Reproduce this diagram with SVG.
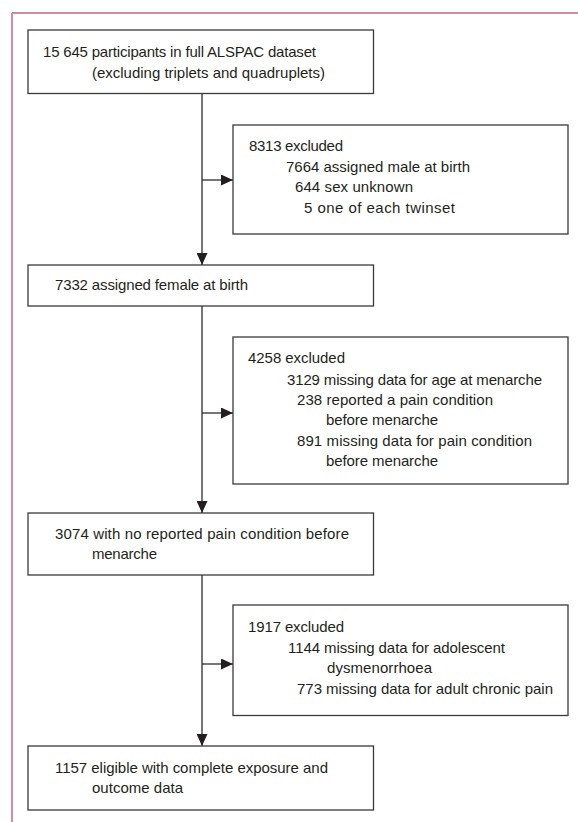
<svg xmlns="http://www.w3.org/2000/svg" width="578" height="822" viewBox="0 0 578 822">
<style>
.box{fill:#fff;stroke:#3a3a3a;stroke-width:1.3}
.t{font-family:"Liberation Sans",Arial,sans-serif;font-size:15px;fill:#231f20}
.c{stroke:#2b2b2b;stroke-width:1.3;fill:none}
</style>
<defs>
<marker id="ah" markerUnits="userSpaceOnUse" markerWidth="12" markerHeight="11" refX="12" refY="5.5" orient="auto">
<path d="M0,0 L12,5.5 L0,11 z" fill="#231f20"/>
</marker>
</defs>
<rect width="578" height="822" fill="#fff"/>
<g id="frame">
<line x1="12" y1="13" x2="578" y2="13" stroke="#a0183c" stroke-width="1.2"/>
<line x1="12" y1="13" x2="12" y2="822" stroke="#d98aa1" stroke-width="2"/>
</g>
<g id="connectors">
<line class="c" x1="202" y1="93.5" x2="202" y2="265" marker-end="url(#ah)"/>
<line class="c" x1="202" y1="180" x2="233" y2="180" marker-end="url(#ah)"/>
<line class="c" x1="202" y1="306" x2="202" y2="513" marker-end="url(#ah)"/>
<line class="c" x1="202" y1="413" x2="233" y2="413" marker-end="url(#ah)"/>
<line class="c" x1="202" y1="575" x2="202" y2="746" marker-end="url(#ah)"/>
<line class="c" x1="202" y1="664" x2="233" y2="664" marker-end="url(#ah)"/>
</g>
<g id="n1">
<rect class="box" x="28" y="30" width="345.5" height="63.5"/>
<text class="t" x="43" y="57" textLength="273">15 645 participants in full ALSPAC dataset</text>
<text class="t" x="92" y="78" textLength="233">(excluding triplets and quadruplets)</text>
</g>
<g id="n2">
<rect class="box" x="233" y="125" width="335" height="109"/>
<text class="t" x="249" y="151" textLength="94">8313 excluded</text>
<text class="t" x="286" y="172" textLength="184">7664 assigned male at birth</text>
<text class="t" x="295" y="192" textLength="118">644 sex unknown</text>
<text class="t" x="304" y="213" textLength="151">5 one of each twinset</text>
</g>
<g id="n3">
<rect class="box" x="28" y="265" width="345.5" height="41"/>
<text class="t" x="55" y="290" textLength="193">7332 assigned female at birth</text>
</g>
<g id="n4">
<rect class="box" x="233" y="337" width="335" height="147"/>
<text class="t" x="248" y="363" textLength="97">4258 excluded</text>
<text class="t" x="287" y="385" textLength="255">3129 missing data for age at menarche</text>
<text class="t" x="297" y="405" textLength="196">238 reported a pain condition</text>
<text class="t" x="326" y="425" textLength="112">before menarche</text>
<text class="t" x="297" y="446" textLength="235">891 missing data for pain condition</text>
<text class="t" x="326" y="466" textLength="112">before menarche</text>
</g>
<g id="n5">
<rect class="box" x="28" y="513" width="345.5" height="62"/>
<text class="t" x="55" y="539" textLength="294">3074 with no reported pain condition before</text>
<text class="t" x="92" y="559" textLength="65">menarche</text>
</g>
<g id="n6">
<rect class="box" x="233" y="605" width="335" height="110.5"/>
<text class="t" x="248" y="632" textLength="96">1917 excluded</text>
<text class="t" x="288" y="653" textLength="217">1144 missing data for adolescent</text>
<text class="t" x="327" y="673" textLength="105">dysmenorrhoea</text>
<text class="t" x="297" y="694" textLength="256">773 missing data for adult chronic pain</text>
</g>
<g id="n7">
<rect class="box" x="28" y="746" width="345.5" height="64"/>
<text class="t" x="55" y="773" textLength="273">1157 eligible with complete exposure and</text>
<text class="t" x="92" y="793" textLength="91">outcome data</text>
</g>
</svg>
